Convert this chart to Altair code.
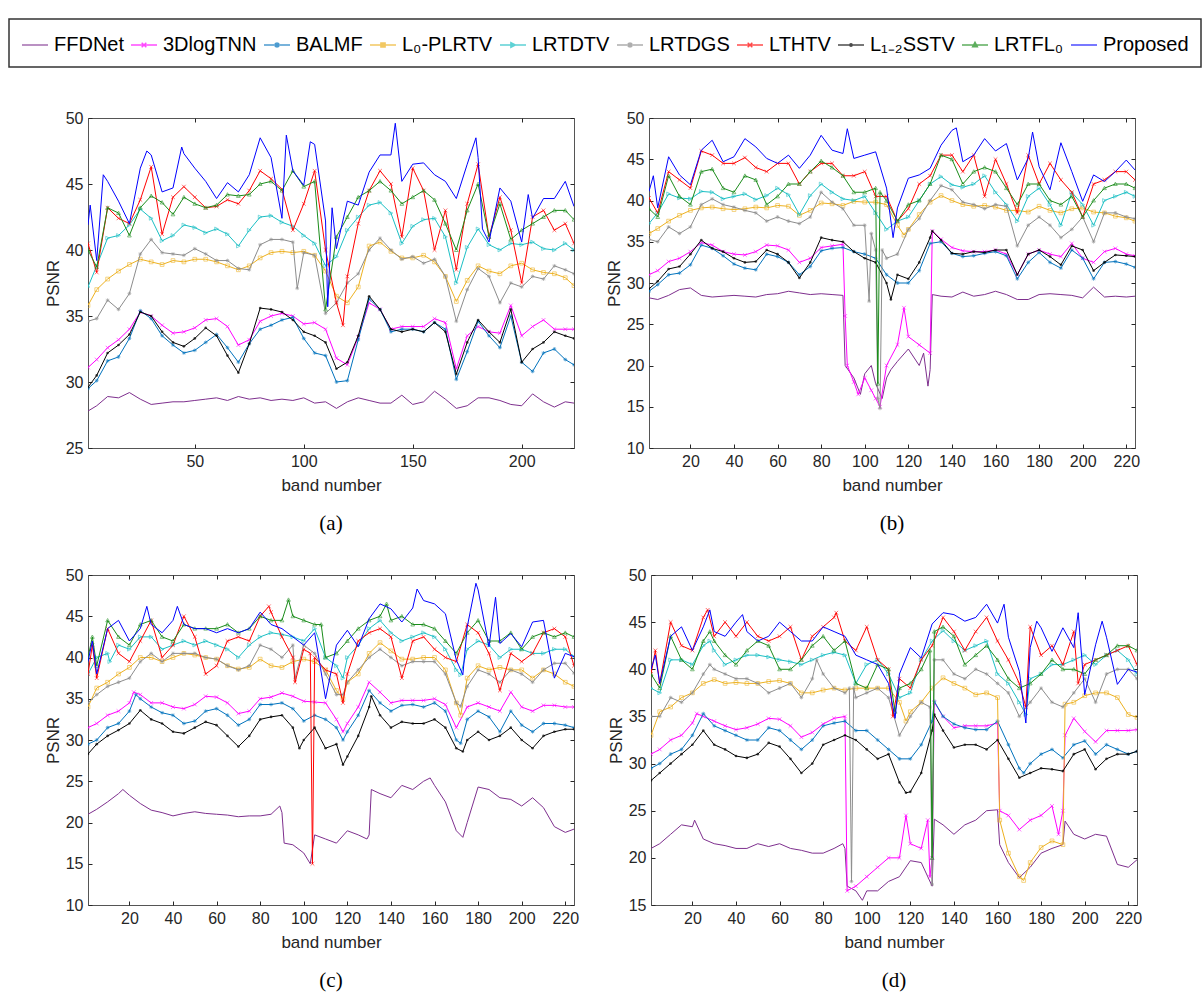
import altair as alt
import pandas as pd

# ---------------------------------------------------------------- methods
METHODS = ["FFDNet", "3DlogTNN", "BALMF", "L₀-PLRTV", "LRTDTV",
           "LRTDGS", "LTHTV", "L₁₋₂SSTV", "LRTFL₀", "Proposed"]
COLORS = ["#7E2F8E", "#FF00FF", "#0072BD", "#EDB120", "#1ABFC4",
          "#8C8C8C", "#FF0000", "#000000", "#1A8C1A", "#0000FF"]

# sampled band numbers shared by every series
BANDS = [1, 5] + list(range(10, 221, 5)) + [224]

# ---------------------------------------------------------------- panel (a)
A_FFDNET = [27.8, 28.2, 28.9, 28.8, 29.2, 28.7, 28.3, 28.4, 28.5, 28.5,
            28.6, 28.7, 28.8, 28.6, 28.9, 28.7, 28.8, 28.6, 28.7, 28.6,
            28.8, 28.4, 28.5, 28.0, 28.5, 28.8, 28.6, 28.4, 28.4, 29.0,
            28.3, 28.5, 29.3, 28.7, 28.0, 28.2, 28.8, 28.8, 28.6, 28.3,
            28.2, 29.1, 28.5, 28.1, 28.5, 28.4]
A_3DLOGTNN = [31.1, 31.7, 32.6, 33.2, 34.0, 35.3, 35.0, 34.3, 33.7, 33.8,
              34.1, 34.7, 34.8, 34.2, 32.8, 33.2, 34.6, 35.0, 35.2, 35.0,
              34.4, 34.5, 34.0, 31.8, 31.3, 33.4, 36.0, 35.5, 34.0, 34.2,
              34.2, 34.2, 34.8, 34.5, 31.0, 33.5, 34.2, 33.8, 33.7, 35.8,
              33.5, 34.2, 34.7, 34.0, 34.0, 34.0]
A_BALMF = [29.5, 30.1, 31.6, 31.9, 33.3, 35.4, 34.8, 33.5, 32.8, 32.2,
           32.4, 33.0, 33.6, 32.6, 31.5, 32.9, 34.0, 34.3, 34.7, 34.9,
           33.3, 32.2, 32.0, 30.0, 30.1, 33.2, 36.3, 35.5, 33.8, 34.0,
           34.0, 33.8, 34.5, 34.0, 30.2, 32.3, 34.6, 33.5, 32.6, 35.0,
           31.5, 30.8, 32.2, 32.5, 31.7, 31.3]
A_L0PLRTV = [35.8, 37.0, 37.8, 38.4, 38.9, 39.3, 39.1, 38.9, 39.2, 39.1,
             39.3, 39.3, 39.1, 38.8, 38.5, 38.8, 39.4, 39.8, 39.9, 39.8,
             39.9, 39.6, 38.4, 36.5, 36.0, 37.2, 40.3, 40.6, 39.9, 39.4,
             39.4, 39.6, 39.1, 38.0, 36.1, 37.7, 38.8, 38.4, 38.2, 38.8,
             39.0, 38.5, 38.3, 38.2, 37.9, 37.3]
A_LRTDTV = [37.2, 38.8, 40.9, 41.1, 41.9, 43.1, 42.4, 40.7, 41.1, 41.9,
            41.7, 41.3, 41.6, 41.2, 40.3, 41.5, 42.5, 42.6, 42.1, 41.8,
            41.1, 40.5, 38.8, 39.5, 41.5, 42.5, 43.4, 43.6, 42.8, 40.5,
            41.8, 42.3, 42.4, 41.0, 37.5, 40.2, 41.6, 40.4, 40.0, 40.5,
            40.4, 40.6, 40.1, 40.0, 40.5, 40.0]
A_LRTDGS = [34.6, 34.8, 36.2, 35.5, 36.7, 39.7, 40.8, 39.8, 39.7, 39.6,
            40.1, 39.7, 39.2, 39.2, 38.6, 38.5, 40.4, 40.8, 40.8, 40.6,
            39.8, 39.6, 35.2, 36.0, 37.5, 38.2, 40.0, 40.9, 40.0, 39.3,
            39.5, 39.0, 39.3, 38.0, 34.6, 37.0, 38.6, 38.0, 36.0, 37.5,
            37.2, 38.0, 37.8, 38.8, 38.5, 38.2]
A_LTHTV = [40.5, 38.3, 43.2, 42.4, 42.0, 43.8, 46.3, 41.2, 44.0, 44.8,
           44.0, 43.2, 43.3, 43.8, 43.5, 44.5, 46.0, 45.4, 44.6, 41.5,
           43.5, 46.0, 40.0, 36.0, 38.0, 42.0, 44.5, 46.0, 45.0, 41.0,
           46.2, 44.5, 40.0, 43.0, 38.5, 43.5, 46.5, 41.0, 44.0, 41.5,
           37.5, 42.5, 43.0, 41.5, 42.0, 40.5]
A_L12SSTV = [29.6, 30.5, 32.2, 32.8, 33.6, 35.3, 35.0, 33.8, 33.0, 32.7,
             33.3, 34.1, 33.5, 32.0, 30.7, 32.9, 35.6, 35.5, 35.3, 34.7,
             33.8, 33.5, 33.0, 31.0, 31.5, 33.5, 36.5, 35.5, 34.0, 33.8,
             34.0, 33.8, 34.5, 33.8, 30.6, 33.0, 34.7, 33.8, 33.0, 35.5,
             31.5, 32.5, 33.0, 33.8, 33.5, 33.3]
A_LRTFL0 = [40.0, 38.7, 43.2, 42.8, 41.1, 43.2, 44.1, 43.6, 42.7, 44.0,
            43.5, 43.2, 43.4, 44.2, 44.1, 44.2, 45.0, 45.2, 44.5, 46.0,
            44.8, 45.2, 35.5, 41.0, 42.5, 44.0, 44.5, 45.2, 44.5, 43.5,
            44.0, 44.5, 43.8, 42.0, 40.0, 43.0, 45.0, 41.0, 43.5, 40.8,
            41.5, 42.0, 42.5, 43.0, 43.0, 42.3]
A_PROPOSED = [41.9, 39.2, 45.2, 43.7, 42.0, 46.2, 47.2, 44.4, 44.7, 47.3,
              46.2, 45.2, 43.9, 45.1, 44.4, 45.7, 48.5, 47.0, 42.4, 46.0,
              44.9, 48.0, 42.2, 40.1, 43.7, 43.4, 45.9, 47.2, 47.2, 45.2,
              46.5, 46.6, 45.7, 45.2, 43.9, 46.5, 47.0, 40.6, 44.7, 43.7,
              40.6, 42.4, 43.9, 43.9, 45.2, 43.3]
A_EXTRA = {
    "LRTDGS": [(97, 37.1)],
    "LTHTV": [(118, 34.3)],
    "Proposed": [(2, 43.4), (8, 45.7), (28, 47.5), (44, 47.8), (92, 48.7),
                 (103, 48.2), (111, 35.7), (113, 43.2), (142, 49.6),
                 (179, 48.5), (182, 41.6), (203, 44.2)],
}

# ---------------------------------------------------------------- panel (b)
B_FFDNET = [28.2, 28.0, 28.5, 29.2, 29.4, 28.5, 28.3, 28.4, 28.5, 28.4,
            28.3, 28.6, 28.7, 29.0, 28.8, 28.6, 28.7, 28.6, 28.5, 18.5,
            19.0, 17.8, 18.5, 20.5, 22.0, 20.0, 19.5, 28.4, 28.3, 28.9,
            28.4, 28.6, 29.0, 28.6, 28.0, 28.0, 28.6, 28.7, 28.6, 28.5,
            28.2, 29.5, 28.3, 28.4, 28.3, 28.4]
B_3DLOGTNN = [31.0, 31.5, 32.6, 33.0, 33.8, 34.9, 34.6, 33.8, 33.5, 33.4,
              33.8, 34.6, 34.5, 34.0, 32.5, 33.0, 34.3, 34.5, 34.7, 18.0,
              18.5, 16.0, 20.0, 22.5, 23.5, 22.5, 21.5, 35.3, 34.3, 33.9,
              33.8, 33.8, 34.0, 33.5, 31.0, 33.5, 34.0, 33.5, 33.2, 34.8,
              33.0, 32.5, 33.8, 34.2, 33.5, 33.3]
B_BALMF = [29.0, 29.8, 31.0, 31.2, 32.2, 34.6, 34.2, 33.3, 32.3, 31.8,
           31.6, 33.5, 33.2, 32.5, 31.0, 32.0, 33.9, 34.2, 34.3, 33.8,
           33.5, 33.0, 31.0, 30.0, 30.0, 31.5, 34.8, 35.0, 33.6, 33.2,
           33.3, 33.6, 33.8, 33.3, 30.5, 32.5, 33.7, 32.5, 31.8, 34.0,
           33.0, 30.5, 32.5, 32.6, 32.3, 31.9]
B_L0PLRTV = [36.0, 36.6, 37.5, 38.2, 38.8, 39.1, 39.2, 39.0, 38.9, 39.0,
             39.2, 39.1, 39.4, 39.3, 38.2, 38.8, 39.7, 39.6, 39.4, 39.9,
             39.8, 39.8, 39.5, 37.0, 36.5, 38.3, 39.8, 40.6, 40.0, 39.5,
             39.3, 39.4, 39.2, 38.8, 38.8, 38.6, 39.3, 38.8, 38.5, 39.0,
             39.1, 38.6, 38.5, 38.1, 37.9, 37.5]
B_LRTDTV = [37.2, 38.5, 40.8, 40.3, 40.2, 41.1, 41.0, 40.2, 40.5, 40.8,
            40.1, 40.6, 41.5, 40.7, 38.3, 40.6, 42.0, 41.0, 40.2, 40.0,
            40.5, 38.5, 36.5, 37.5, 38.0, 40.0, 42.0, 42.9, 41.9, 41.6,
            42.0, 43.0, 41.0, 39.5, 37.5, 40.5, 41.5, 39.5, 37.0, 41.0,
            39.5, 37.0, 40.0, 40.5, 41.0, 40.5]
B_LRTDGS = [35.3, 35.0, 36.8, 36.0, 36.8, 39.5, 40.2, 39.5, 39.2, 38.8,
            38.5, 37.5, 38.0, 37.5, 37.2, 38.0, 41.0, 39.8, 39.0, 37.0,
            37.0, 34.0, 33.0, 33.5, 36.5, 37.8, 40.0, 41.8, 41.3, 39.8,
            39.5, 39.0, 39.5, 39.3, 34.5, 37.0, 38.0, 37.0, 35.5, 36.5,
            38.0, 35.0, 38.5, 38.5, 38.0, 37.8]
B_LTHTV = [40.3, 38.5, 43.5, 42.5, 41.5, 46.0, 45.5, 44.5, 44.5, 45.2,
           44.0, 43.5, 44.5, 44.5, 42.0, 43.5, 44.5, 44.5, 43.0, 43.0,
           43.5, 40.5, 40.5, 37.5, 39.0, 42.0, 43.0, 45.5, 45.5, 43.5,
           45.5, 40.5, 45.0, 42.0, 38.5, 45.5, 42.0, 44.5, 42.5, 41.0,
           38.0, 42.0, 42.5, 43.5, 43.5, 42.5]
B_L12SSTV = [29.3, 30.2, 31.7, 32.0, 33.5, 35.2, 34.2, 33.8, 33.0, 32.5,
             32.6, 34.0, 33.5, 32.5, 30.6, 32.5, 35.5, 35.2, 35.0, 33.8,
             33.0, 32.5, 30.0, 31.0, 30.5, 32.5, 35.5, 35.2, 33.6, 33.5,
             33.8, 33.7, 34.0, 34.0, 31.0, 33.5, 34.0, 33.2, 32.2, 34.5,
             34.0, 31.5, 32.5, 33.4, 33.3, 33.2]
B_LRTFL0 = [39.0, 38.0, 43.0, 40.5, 39.5, 43.5, 43.8, 41.5, 41.0, 43.0,
            42.5, 39.5, 40.5, 42.0, 42.0, 43.5, 44.8, 44.0, 43.0, 41.0,
            41.0, 41.5, 40.0, 37.5, 39.5, 40.0, 42.0, 45.5, 45.0, 42.0,
            43.5, 44.0, 43.5, 41.5, 39.5, 42.0, 42.0, 40.0, 39.5, 40.5,
            38.0, 40.0, 41.5, 42.0, 42.0, 41.5]
B_PROPOSED = [41.1, 39.1, 45.3, 43.1, 41.9, 46.1, 47.3, 44.7, 45.3, 47.5,
              46.5, 45.1, 44.5, 45.5, 43.9, 45.5, 47.9, 46.1, 45.7, 45.1,
              45.5, 45.9, 41.5, 39.1, 42.7, 43.1, 43.9, 46.7, 48.5, 44.7,
              45.5, 47.5, 46.0, 46.9, 42.5, 45.1, 44.1, 41.3, 47.0, 43.5,
              39.9, 43.1, 42.3, 43.5, 44.9, 43.7]
B_EXTRA = {
    "FFDNet": [(91, 20.0), (98, 16.5), (103, 20.0), (108, 16.0), (112, 19.5),
               (127, 21.5), (129, 17.5), (131, 28.6)],
    "3DlogTNN": [(91, 26.0), (92, 20.0), (97, 16.5), (103, 17.0), (107, 15.0),
                 (118, 27.0), (131, 36.3)],
    "L₀-PLRTV": [(118, 35.8)],
    "LRTDGS": [(102, 27.8), (103, 36.0), (106, 16.0), (107, 14.8), (108, 34.0)],
    "L₁₋₂SSTV": [(112, 28.0), (131, 36.3)],
    "LRTFL₀": [(106, 17.8), (107, 41.0)],
    "Proposed": [(3, 43.0), (92, 48.7), (113, 35.5), (142, 48.8), (177, 48.3)],
}

# ---------------------------------------------------------------- panel (c)
C_FFDNET = [21.0, 21.6, 22.5, 23.5, 23.3, 22.3, 21.5, 21.2, 20.8, 21.1,
            21.3, 21.1, 21.0, 20.9, 20.7, 20.8, 20.8, 21.0, 21.2, 17.3,
            16.3, 18.5, 18.0, 17.5, 19.0, 18.5, 18.5, 23.5, 23.0, 24.5,
            24.0, 25.0, 24.5, 22.5, 19.0, 20.0, 24.3, 24.0, 23.0, 22.8,
            22.0, 23.0, 21.8, 19.5, 18.8, 19.2]
C_3DLOGTNN = [31.5, 32.0, 33.0, 33.5, 34.5, 35.5, 34.5, 34.5, 34.0, 33.8,
              34.3, 35.3, 35.2, 34.5, 33.2, 33.5, 35.0, 35.2, 35.7, 35.3,
              34.7, 34.6, 34.5, 32.5, 32.0, 34.0, 37.0, 35.8, 34.5, 34.8,
              34.8, 34.8, 35.0, 34.3, 31.5, 34.0, 34.5, 34.0, 33.5, 35.8,
              34.0, 33.5, 34.2, 34.2, 34.0, 34.0]
C_BALMF = [29.5, 30.0, 31.5, 32.0, 33.5, 35.0, 34.0, 33.3, 33.0, 32.0,
           32.3, 33.5, 33.8, 33.0, 31.8, 32.5, 34.3, 34.3, 34.5, 33.8,
           32.3, 33.0, 32.5, 31.5, 31.0, 33.0, 36.0, 34.5, 33.5, 34.2,
           34.3, 34.0, 34.5, 33.5, 30.0, 32.5, 33.5, 32.8, 31.0, 33.5,
           31.8, 31.0, 32.0, 32.0, 31.8, 31.5]
C_L0PLRTV = [34.0, 36.3, 37.0, 38.0, 38.8, 40.0, 40.0, 39.5, 40.0, 40.5,
             40.3, 40.0, 39.8, 39.0, 38.6, 38.8, 39.8, 39.0, 38.8, 39.5,
             39.8, 39.5, 38.5, 36.0, 37.0, 38.0, 40.5, 41.8, 40.8, 39.8,
             39.8, 40.0, 40.0, 38.5, 34.5, 37.5, 39.0, 38.5, 38.8, 38.5,
             38.5, 37.5, 38.5, 38.0, 37.0, 36.5]
C_LRTDTV = [38.0, 40.0, 40.5, 41.5, 41.0, 42.5, 42.5, 41.0, 41.5, 42.0,
            41.5, 42.0, 41.5, 41.0, 40.0, 41.5, 42.5, 43.0, 42.8, 42.5,
            42.0, 43.5, 40.0, 39.0, 40.0, 41.5, 43.5, 44.5, 43.0, 42.0,
            42.5, 43.0, 42.5, 41.0, 38.5, 41.0, 42.0, 41.5, 40.0, 41.0,
            41.0, 40.5, 40.5, 41.0, 41.0, 40.1]
C_LRTDGS = [34.5, 35.5, 36.5, 37.0, 37.5, 39.5, 40.5, 39.5, 40.5, 40.5,
            40.5, 40.0, 39.8, 39.0, 38.5, 39.0, 41.5, 41.0, 40.0, 41.5,
            41.5, 40.5, 38.0, 35.5, 37.0, 38.5, 40.0, 41.0, 40.0, 39.0,
            39.5, 39.5, 39.5, 38.0, 34.5, 36.5, 38.5, 38.0, 37.0, 38.5,
            38.0, 37.0, 38.5, 39.3, 39.3, 38.1]
C_LTHTV = [38.0, 37.5, 43.5, 40.5, 39.5, 42.0, 44.5, 40.0, 41.5, 45.0,
           42.5, 38.0, 39.0, 42.0, 42.5, 42.0, 45.0, 45.5, 42.5, 40.0,
           41.0, 40.0, 38.5, 38.0, 38.0, 42.0, 43.0, 43.5, 42.5, 37.5,
           42.0, 42.5, 41.0, 40.0, 39.5, 44.0, 43.0, 40.5, 36.0, 40.5,
           39.5, 40.5, 43.0, 43.5, 42.5, 39.0]
C_L12SSTV = [28.3, 29.5, 30.5, 31.2, 32.0, 33.6, 32.5, 32.0, 31.0, 30.8,
             31.5, 32.2, 31.8, 30.5, 29.2, 30.5, 32.5, 32.8, 33.0, 31.5,
             30.0, 31.5, 29.0, 29.5, 28.0, 30.5, 34.0, 33.0, 31.5, 32.2,
             32.0, 32.0, 32.5, 31.5, 29.0, 30.0, 31.0, 30.0, 30.5, 31.5,
             30.0, 29.0, 30.5, 31.0, 31.3, 31.3]
C_LRTFL0 = [40.0, 39.0, 44.5, 42.5, 41.5, 44.0, 44.5, 42.5, 42.0, 44.0,
            43.5, 43.5, 43.5, 44.0, 43.0, 43.5, 45.0, 44.5, 44.5, 45.0,
            44.5, 44.0, 40.0, 40.5, 42.0, 43.5, 44.5, 45.0, 44.5, 45.0,
            44.0, 44.0, 43.5, 42.0, 40.5, 43.0, 44.5, 42.0, 42.0, 43.0,
            41.0, 42.5, 43.0, 42.5, 43.0, 42.5]
C_PROPOSED = [39.5, 38.0, 43.5, 44.5, 42.0, 43.5, 44.0, 43.0, 44.5, 44.0,
              43.5, 43.5, 43.0, 43.5, 43.0, 43.5, 45.5, 44.0, 43.5, 42.5,
              41.5, 43.0, 35.0, 41.5, 43.3, 41.3, 44.7, 46.5, 45.9, 44.3,
              46.0, 46.9, 46.5, 45.3, 39.7, 43.7, 48.2, 41.3, 41.7, 42.9,
              41.3, 44.3, 44.5, 37.5, 40.5, 40.1]
C_EXTRA = {
    "FFDNet": [(17, 24.0), (89, 22.0), (91, 17.5), (103, 15.0), (129, 18.0),
               (131, 24.0), (158, 25.4), (173, 18.2)],
    "3DlogTNN": [(22, 35.8), (118, 31.0)],
    "BALMF": [(23, 35.5), (118, 30.0), (172, 29.6)],
    "L₀-PLRTV": [(118, 35.0), (172, 33.0)],
    "LRTDTV": [(11, 39.5), (118, 37.5), (172, 37.9)],
    "LRTDGS": [(96, 37.5), (118, 35.5), (172, 34.1)],
    "LTHTV": [(3, 41.5), (84, 46.2), (96, 37.0), (103, 40.5), (104, 15.0),
              (118, 34.5)],
    "L₁₋₂SSTV": [(98, 29.0), (118, 27.0), (131, 35.3), (173, 28.6)],
    "LRTFL₀": [(3, 42.5), (93, 47.0), (108, 44.0), (138, 46.5)],
    "Proposed": [(3, 42.0), (28, 46.2), (42, 46.2), (152, 48.3), (173, 37.9),
                 (179, 49.0), (188, 47.3)],
}

# ---------------------------------------------------------------- panel (d)
D_FFDNET = [21.0, 21.5, 22.5, 23.5, 23.3, 22.0, 21.5, 21.3, 21.0, 21.0,
            21.5, 21.2, 21.5, 21.0, 20.8, 20.5, 20.5, 21.0, 21.0, 16.5,
            16.5, 16.5, 17.5, 18.0, 19.7, 19.5, 17.0, 23.5, 22.5, 23.5,
            24.0, 25.0, 25.1, 19.5, 17.9, 19.0, 20.5, 21.0, 21.4, 22.5,
            22.0, 22.5, 22.3, 19.3, 19.0, 19.8]
D_3DLOGTNN = [31.0, 31.5, 32.5, 33.0, 34.3, 35.0, 34.5, 34.0, 33.6, 33.8,
              34.2, 34.8, 34.7, 34.0, 32.8, 33.3, 34.2, 34.8, 35.0, 17.0,
              18.0, 19.0, 20.0, 20.0, 21.5, 21.0, 20.0, 35.0, 33.8, 34.0,
              34.0, 34.0, 34.3, 24.5, 23.0, 24.0, 24.5, 25.5, 25.0, 34.8,
              33.4, 32.3, 33.5, 33.5, 33.5, 33.6]
D_BALMF = [29.5, 30.0, 31.0, 31.5, 33.0, 35.3, 34.0, 33.5, 33.0, 32.5,
           32.5, 33.8, 33.5, 32.5, 31.5, 32.5, 34.0, 34.3, 34.5, 33.5,
           33.5, 32.5, 31.5, 30.5, 30.5, 32.0, 34.5, 35.0, 34.2, 33.8,
           33.6, 33.6, 34.5, 32.0, 29.5, 30.0, 31.0, 31.5, 30.6, 32.0,
           32.4, 31.0, 32.0, 31.5, 31.0, 31.3]
D_L0PLRTV = [33.0, 35.5, 36.0, 37.0, 37.5, 38.5, 38.9, 38.5, 38.6, 38.5,
             38.5, 38.7, 38.8, 38.5, 37.5, 37.5, 37.8, 38.0, 37.8, 38.0,
             38.0, 38.0, 38.0, 36.5, 35.5, 36.5, 38.0, 39.1, 38.5, 38.0,
             37.3, 37.5, 37.0, 20.5, 18.0, 19.5, 21.1, 21.8, 21.4, 36.5,
             37.2, 37.5, 37.5, 37.0, 35.2, 34.9]
D_LRTDTV = [38.0, 37.5, 41.0, 41.0, 40.5, 42.5, 42.0, 40.5, 41.0, 41.5,
            41.5, 41.3, 41.0, 40.8, 40.5, 41.0, 41.5, 41.8, 41.5, 38.5,
            40.5, 41.0, 39.5, 37.0, 37.5, 41.0, 43.0, 44.1, 43.0, 42.0,
            42.5, 43.0, 39.5, 38.5, 36.5, 39.0, 39.5, 40.5, 40.5, 41.0,
            41.5, 40.5, 41.5, 42.0, 41.0, 39.5]
D_LRTDGS = [35.0, 35.0, 37.0, 36.5, 37.5, 39.5, 40.0, 39.5, 39.0, 39.0,
            38.5, 37.5, 38.0, 38.5, 37.0, 39.0, 39.5, 38.0, 37.5, 37.0,
            37.5, 38.0, 37.0, 33.0, 35.0, 36.5, 17.2, 41.0, 39.5, 39.0,
            40.0, 39.5, 38.5, 37.5, 35.0, 36.5, 38.0, 36.5, 36.0, 37.5,
            39.0, 36.5, 39.5, 40.0, 40.0, 39.0]
D_LTHTV = [39.5, 38.5, 45.0, 42.5, 42.0, 45.5, 43.5, 45.0, 43.5, 45.0,
           43.5, 43.0, 43.5, 44.5, 41.0, 43.5, 44.5, 45.5, 43.0, 42.0,
           44.5, 41.0, 40.0, 39.0, 38.0, 41.0, 42.5, 45.5, 44.0, 42.0,
           44.0, 45.5, 43.0, 41.0, 38.5, 44.5, 41.5, 42.5, 40.5, 44.0,
           40.5, 41.0, 41.5, 42.0, 42.5, 40.5]
D_L12SSTV = [28.2, 29.0, 30.0, 31.0, 32.0, 33.5, 32.0, 31.5, 30.8, 30.6,
             31.0, 32.2, 31.8, 30.5, 29.0, 30.0, 32.0, 32.5, 33.0, 32.5,
             31.5, 30.5, 31.0, 28.0, 27.0, 29.0, 33.5, 33.5, 31.7, 32.0,
             32.0, 31.5, 32.5, 30.5, 28.5, 29.0, 29.5, 29.4, 29.2, 31.0,
             31.5, 29.4, 30.5, 31.0, 31.0, 31.3]
D_LRTFL0 = [39.5, 38.0, 43.5, 41.0, 40.0, 43.0, 43.0, 41.5, 40.5, 42.0,
            43.0, 42.5, 40.0, 40.0, 41.0, 42.5, 43.5, 42.0, 43.0, 38.5,
            38.0, 40.5, 40.0, 38.0, 38.5, 40.0, 20.0, 44.5, 43.5, 40.5,
            41.5, 42.5, 41.0, 39.0, 38.0, 38.5, 39.5, 41.0, 40.0, 40.0,
            39.5, 41.0, 41.5, 42.5, 42.5, 42.0]
D_PROPOSED = [40.0, 38.5, 43.5, 44.5, 42.0, 44.5, 44.0, 43.5, 45.0, 44.0,
              43.0, 43.5, 45.0, 44.0, 43.0, 43.0, 44.5, 44.0, 43.5, 41.5,
              41.0, 40.5, 38.5, 39.5, 42.3, 41.2, 44.8, 46.0, 45.8, 45.1,
              45.5, 46.9, 44.9, 43.4, 39.8, 42.3, 44.4, 41.9, 44.4, 42.3,
              37.3, 42.6, 43.4, 38.4, 40.0, 39.7]
D_EXTRA = {
    "FFDNet": [(21, 24.0), (89, 21.5), (91, 17.0), (98, 15.5), (131, 24.1),
               (161, 21.4), (191, 23.9)],
    "3DlogTNN": [(22, 35.3), (91, 16.5), (118, 24.5), (128, 24.0), (129, 18.0),
                 (131, 36.5), (161, 25.0), (188, 22.5), (191, 33.0)],
    "BALMF": [(131, 36.6), (172, 29.0)],
    "L₀-PLRTV": [(118, 34.5), (161, 24.0), (172, 17.6), (191, 36.3)],
    "LRTDTV": [(28, 43.0), (173, 35.2)],
    "LRTDGS": [(28, 40.5), (77, 41.0), (92, 38.0), (93, 17.5), (94, 38.0),
               (129, 36.0), (131, 41.0)],
    "LTHTV": [(3, 42.0), (27, 46.3), (86, 46.0), (112, 35.0), (173, 36.0),
              (197, 38.5)],
    "L₁₋₂SSTV": [(118, 26.9), (131, 35.2)],
    "LRTFL₀": [(28, 44.0), (113, 35.5), (129, 42.0), (131, 44.0)],
    "Proposed": [(3, 41.5), (28, 46.3), (43, 45.8), (113, 34.8), (163, 46.9),
                 (173, 34.3), (178, 45.1), (197, 46.0), (208, 45.1)],
}

PANELS = {
    "a": dict(series=[A_FFDNET, A_3DLOGTNN, A_BALMF, A_L0PLRTV, A_LRTDTV,
                      A_LRTDGS, A_LTHTV, A_L12SSTV, A_LRTFL0, A_PROPOSED],
              extra=A_EXTRA, ymin=25, xticks=[50, 100, 150, 200]),
    "b": dict(series=[B_FFDNET, B_3DLOGTNN, B_BALMF, B_L0PLRTV, B_LRTDTV,
                      B_LRTDGS, B_LTHTV, B_L12SSTV, B_LRTFL0, B_PROPOSED],
              extra=B_EXTRA, ymin=10, xticks=list(range(20, 221, 20))),
    "c": dict(series=[C_FFDNET, C_3DLOGTNN, C_BALMF, C_L0PLRTV, C_LRTDTV,
                      C_LRTDGS, C_LTHTV, C_L12SSTV, C_LRTFL0, C_PROPOSED],
              extra=C_EXTRA, ymin=10, xticks=list(range(20, 221, 20))),
    "d": dict(series=[D_FFDNET, D_3DLOGTNN, D_BALMF, D_L0PLRTV, D_LRTDTV,
                      D_LRTDGS, D_LTHTV, D_L12SSTV, D_LRTFL0, D_PROPOSED],
              extra=D_EXTRA, ymin=15, xticks=list(range(20, 221, 20))),
}

# ---------------------------------------------------------------- long table
rows = []
for key, spec in PANELS.items():
    for method, values in zip(METHODS, spec["series"]):
        assert len(values) == len(BANDS), (key, method, len(values))
        pts = dict(zip(BANDS, values))
        pts.update(dict(spec["extra"].get(method, [])))
        for band in sorted(pts):
            rows.append({"panel": key, "method": method, "band": band,
                         "psnr": pts[band]})
data = pd.DataFrame(rows)

# plot markers (unit paths) and legend glyphs (line with a marker in the middle)
MARKERS = {
    "3DlogTNN": "M-1,-1L1,1M-1,1L1,-1",
    "BALMF": "M-1,0L1,0M0,-1L0,1M-0.7,-0.7L0.7,0.7M-0.7,0.7L0.7,-0.7",
    "L₀-PLRTV": "M-1,-1L1,-1L1,1L-1,1Z",
    "LRTDTV": "M-1,-1L1,0L-1,1Z",
    "LRTDGS": "M-1,0L1,0M0,-1L0,1M-0.7,-0.7L0.7,0.7M-0.7,0.7L0.7,-0.7",
    "LTHTV": "M-1,-1L1,1M-1,1L1,-1",
    "L₁₋₂SSTV": "circle",
    "LRTFL₀": "M0,-1L1,0.8L-1,0.8Z",
}
LEGEND_GLYPHS = [
    "M-1,0L1,0",
    "M-1,0L1,0M-0.18,-0.18L0.18,0.18M-0.18,0.18L0.18,-0.18",
    "M-1,0L1,0M0,-0.22L0,0.22M-0.16,-0.16L0.16,0.16M-0.16,0.16L0.16,-0.16",
    "M-1,0L1,0M-0.16,-0.16L0.16,-0.16L0.16,0.16L-0.16,0.16Z",
    "M-1,0L1,0M-0.16,-0.18L0.18,0L-0.16,0.18Z",
    "M-1,0L1,0M0,-0.22L0,0.22M-0.16,-0.16L0.16,0.16M-0.16,0.16L0.16,-0.16",
    "M-1,0L1,0M-0.18,-0.18L0.18,0.18M-0.18,0.18L0.18,-0.18",
    "M-1,0L1,0M-0.09,0A0.09,0.09 0 1,0 0.09,0A0.09,0.09 0 1,0 -0.09,0",
    "M-1,0L1,0M0,-0.2L0.18,0.14L-0.18,0.14Z",
    "M-1,0L1,0",
]

W, H = 486, 330


def panel(key, caption):
    spec = PANELS[key]
    src = data[data["panel"] == key]
    xs = alt.Scale(domain=[1, 224], nice=False, zero=False)
    ys = alt.Scale(domain=[spec["ymin"], 50], nice=False, zero=False)
    yticks = list(range(spec["ymin"], 51, 5))
    color = alt.Color("method:N", scale=alt.Scale(domain=METHODS, range=COLORS),
                      legend=alt.Legend(title=None))

    # inward ticks on all four sides of the box
    frame = alt.Chart(src).mark_point(opacity=0).encode(
        x=alt.X("band:Q", scale=xs,
                axis=alt.Axis(orient="top", values=spec["xticks"], labels=False,
                              title=None, offset=-4, tickSize=4, domain=False)),
        y=alt.Y("psnr:Q", scale=ys,
                axis=alt.Axis(orient="right", values=yticks, labels=False,
                              title=None, offset=-4, tickSize=4, domain=False)),
    )
    base_axes = alt.Chart(src).mark_point(opacity=0).encode(
        x=alt.X("band:Q", scale=xs,
                axis=alt.Axis(values=spec["xticks"], title="band number",
                              offset=-4, tickSize=4, domain=False,
                              labelPadding=5, titlePadding=8)),
        y=alt.Y("psnr:Q", scale=ys,
                axis=alt.Axis(values=yticks, title="PSNR", offset=-4,
                              tickSize=4, domain=False, labelPadding=5,
                              titlePadding=3)),
    )
    layers = [frame, base_axes]
    for method in METHODS:
        sub = alt.Chart(src).transform_filter(alt.datum.method == method)
        enc = dict(x=alt.X("band:Q", scale=xs, axis=None),
                   y=alt.Y("psnr:Q", scale=ys, axis=None),
                   color=color)
        layers.append(sub.mark_line(strokeWidth=1, clip=True).encode(**enc))
        if method in MARKERS:
            shape = MARKERS[method]
            if shape == "circle":
                mk = sub.mark_point(shape="circle", filled=True, size=7,
                                    clip=True)
            else:
                mk = sub.mark_point(shape=shape, filled=False, size=14,
                                    strokeWidth=0.8, clip=True)
            layers.append(mk.encode(**enc))
    # legend glyphs: empty layer that only carries the shape scale
    glyphs = alt.Chart(src).transform_filter("false").mark_point(
        filled=False, strokeWidth=1.5).encode(
        x=alt.X("band:Q", scale=xs, axis=None),
        y=alt.Y("psnr:Q", scale=ys, axis=None),
        color=color,
        shape=alt.Shape("method:N",
                        scale=alt.Scale(domain=METHODS, range=LEGEND_GLYPHS),
                        legend=alt.Legend(title=None)),
    )
    layers.append(glyphs)
    return alt.layer(*layers).resolve_axis(x="independent", y="independent") \
        .properties(width=W, height=H,
                    title=alt.TitleParams(caption, orient="bottom", offset=20))


top = alt.hconcat(panel("a", "(a)"), panel("b", "(b)"), spacing=26)
bottom = alt.hconcat(panel("c", "(c)"), panel("d", "(d)"), spacing=26)

chart = alt.vconcat(top, bottom, spacing=31).properties(
    padding={"left": 8, "top": 18, "right": 0, "bottom": 0},
    background="white",
).configure_view(
    stroke="#555555", strokeWidth=1,
).configure_axis(
    grid=False,
    labelFont="Liberation Sans", labelFontSize=16, labelColor="#262626",
    titleFont="Liberation Sans", titleFontSize=17, titleFontWeight="normal",
    titleColor="#262626", tickColor="#262626",
).configure_title(
    font="Liberation Serif", fontSize=21, fontWeight="normal", color="black",
).configure_legend(
    orient="none", legendX=-79, legendY=-99, direction="horizontal",
    columns=10, labelFont="Liberation Sans",
    labelFontSize=20, labelColor="black", labelOffset=5, columnPadding=4,
    symbolSize=676, symbolStrokeWidth=1.5, strokeColor="#333333",
    strokeWidth=1.5, fillColor="white", padding=12,
)

chart.save("out.html", embed_options={"renderer": "svg", "actions": False})
